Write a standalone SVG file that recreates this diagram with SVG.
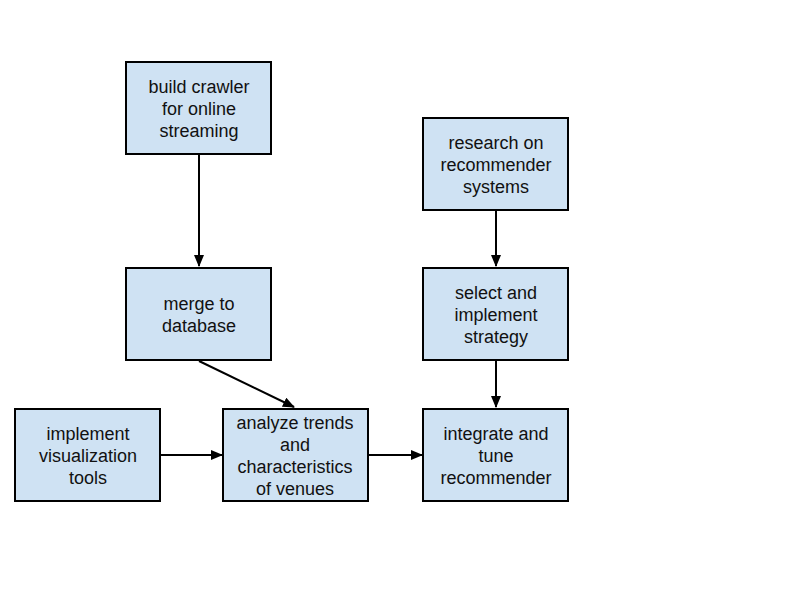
<svg xmlns="http://www.w3.org/2000/svg" width="800" height="600" viewBox="0 0 800 600">
<defs>
<marker id="arr" markerWidth="12" markerHeight="10" refX="11" refY="5" orient="auto" markerUnits="userSpaceOnUse">
<path d="M0,0 L12,5 L0,10 Z" fill="#000"/>
</marker>
<style>
.box{fill:#cfe2f3;stroke:#000;stroke-width:2}
.t{font-family:"Liberation Sans",Arial,sans-serif;font-size:18px;fill:#111;text-anchor:middle}
.c{stroke:#000;stroke-width:2;fill:none;marker-end:url(#arr)}
</style>
</defs>
<rect width="800" height="600" fill="#fff"/>
<g id="connectors">
<line class="c" x1="199" y1="154" x2="199" y2="266"/>
<line class="c" x1="199" y1="361" x2="294" y2="407"/>
<line class="c" x1="496" y1="210" x2="496" y2="266"/>
<line class="c" x1="496" y1="361" x2="496" y2="407"/>
<line class="c" x1="160" y1="455" x2="222" y2="455"/>
<line class="c" x1="368" y1="455" x2="422" y2="455"/>
</g>
<g id="crawler">
<rect class="box" x="126" y="62" width="145" height="92"/>
<text class="t" x="199" y="93">build crawler</text>
<text class="t" x="199" y="115">for online</text>
<text class="t" x="199" y="137">streaming</text>
</g>
<g id="merge">
<rect class="box" x="126" y="268" width="145" height="92"/>
<text class="t" x="199" y="310">merge to</text>
<text class="t" x="199" y="332">database</text>
</g>
<g id="research">
<rect class="box" x="423" y="118" width="145" height="92"/>
<text class="t" x="496" y="149">research on</text>
<text class="t" x="496" y="171">recommender</text>
<text class="t" x="496" y="193">systems</text>
</g>
<g id="select">
<rect class="box" x="423" y="268" width="145" height="92"/>
<text class="t" x="496" y="299">select and</text>
<text class="t" x="496" y="321">implement</text>
<text class="t" x="496" y="343">strategy</text>
</g>
<g id="visualization">
<rect class="box" x="15" y="409" width="145" height="92"/>
<text class="t" x="88" y="440">implement</text>
<text class="t" x="88" y="462">visualization</text>
<text class="t" x="88" y="484">tools</text>
</g>
<g id="analyze">
<rect class="box" x="223" y="409" width="145" height="92"/>
<text class="t" x="295" y="429">analyze trends</text>
<text class="t" x="295" y="451">and</text>
<text class="t" x="295" y="473">characteristics</text>
<text class="t" x="295" y="495">of venues</text>
</g>
<g id="integrate">
<rect class="box" x="423" y="409" width="145" height="92"/>
<text class="t" x="496" y="440">integrate and</text>
<text class="t" x="496" y="462">tune</text>
<text class="t" x="496" y="484">recommender</text>
</g>
</svg>
